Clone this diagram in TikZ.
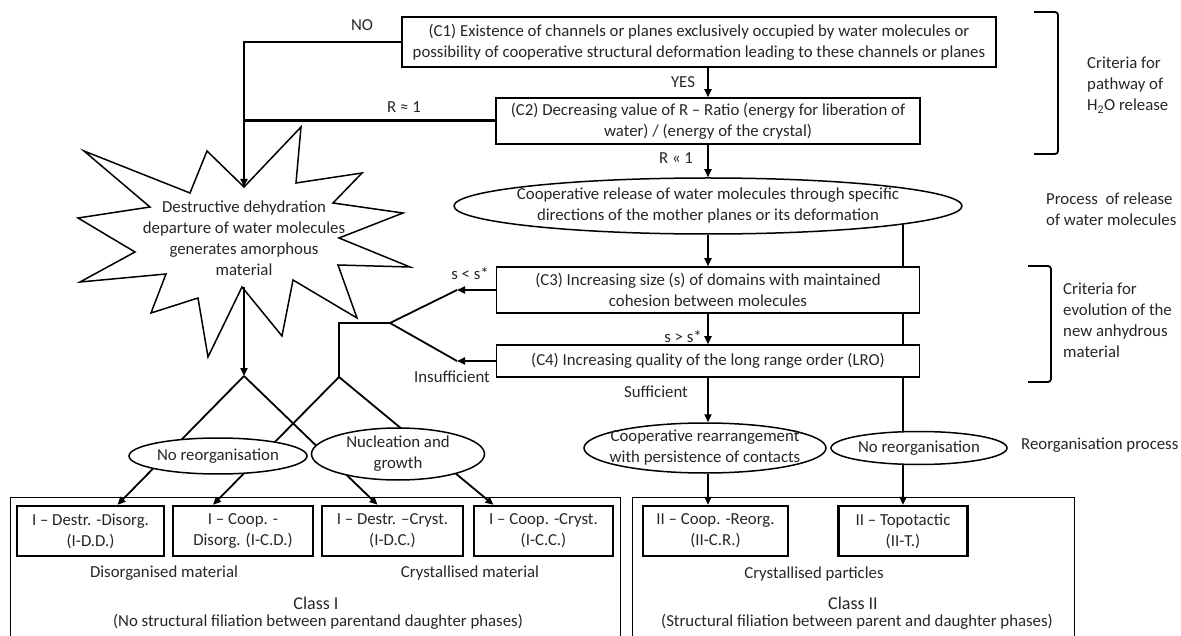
\documentclass[tikz,border=0pt]{standalone}
\usepackage{fontspec}
\setmainfont{Carlito}
\usetikzlibrary{shapes.geometric, arrows.meta, backgrounds}

\tikzstyle{crit} = [rectangle, draw=black, line width=1.5pt, fill=white, align=center, inner sep=0pt]
\tikzstyle{proc} = [ellipse, draw=black, line width=1.5pt, fill=white, align=center, inner xsep=-90pt, inner ysep=-6pt]
\tikzstyle{result} = [rectangle, draw=black, line width=2.4pt, fill=white, align=center, minimum height=50pt, inner sep=0pt]
\tikzstyle{frame} = [rectangle, draw=black, line width=1.2pt, anchor=north west, minimum height=160pt]
\tikzstyle{side} = [align=left, anchor=west, inner sep=0pt]
\tikzstyle{link} = [line width=1.8pt]
\tikzstyle{arrow} = [line width=1.8pt, -{Triangle[length=8pt,width=7pt]}]

\begin{document}
\begin{tikzpicture}[x=1pt, y=-1pt, font=\fontsize{16.8}{21}\selectfont, text=black!85]
    \useasboundingbox (0,0) rectangle (1181,636);

    % Criteria and release process
    \node (c1) [crit, minimum width=594pt, minimum height=50pt] at (699,42) {(C1) Existence of channels or planes exclusively occupied by water molecules or\\possibility of cooperative structural deformation leading to these channels or planes};
    \node (c2) [crit, below of=c1, node distance=79pt, xshift=9pt, minimum width=424pt, minimum height=46pt] {(C2) Decreasing value of R – Ratio (energy for liberation of\\water) / (energy of the crystal)};
    \node (rel) [proc, below of=c2, node distance=85pt, minimum width=508pt, minimum height=56pt] {Cooperative release of water molecules through specific\\directions of the mother planes or its deformation};
    \node (c3) [crit, below of=rel, node distance=84pt, minimum width=423pt, minimum height=46pt] {(C3) Increasing size (s) of domains with maintained\\cohesion between molecules};
    \node (c4) [crit, below of=c3, node distance=71pt, minimum width=423pt, minimum height=32pt] {(C4) Increasing quality of the long range order (LRO)};

    % Destructive pathway
    \draw [line width=1.5pt, fill=white] (84,151) -- (190,193) -- (207,151) -- (244,187) -- (301,127) -- (296,183)
        -- (362,173) -- (333,203) -- (403,213) -- (339,238) -- (410,267) -- (338,265) -- (357,318)
        -- (293,280) -- (282,336) -- (242,287) -- (208,357) -- (198,298) -- (151,313) -- (166,274)
        -- (80,282) -- (135,252) -- (78,218) -- (150,207) -- cycle;
    \node (destr) [align=center] at (244,238) {Destructive dehydration\\departure of water molecules\\generates amorphous\\material};
    \coordinate (topnotch) at (244,187);
    \coordinate (botnotch) at (244,287);
    \coordinate (destrV) at (244,376);
    \coordinate (coopV) at (339,377);
    \coordinate (fork) at (390,323);
    \coordinate (lowS) at (457,290);
    \coordinate (lowQ) at (457,361);

    % Reorganisation processes
    \node (noreorgA) [proc, minimum width=178pt, minimum height=36pt] at (218,456) {No reorganisation};
    \node (nucl) [proc, minimum width=173pt, minimum height=52pt] at (398,454) {Nucleation and\\growth};
    \node (coop) [proc, minimum width=242pt, minimum height=50pt] at (705,448) {Cooperative rearrangement\\with persistence of contacts};
    \node (noreorgB) [proc, right of=coop, node distance=214pt, minimum width=176pt, minimum height=33pt] {No reorganisation};

    % Classes
    \node (classI) [frame, minimum width=610pt] at (10,497) {};
    \node (classII) [frame, minimum width=442pt] at (632,497) {};
    \node (idd) [result, minimum width=147pt] at (90.5,531) {I – Destr. -Disorg.\\(I-D.D.)};
    \node (icd) [result, minimum width=140pt] at (243,531) {I – Coop. -\\Disorg. (I-C.D.)};
    \node (idc) [result, minimum width=141pt] at (392.5,531) {I – Destr. –Cryst.\\(I-D.C.)};
    \node (icc) [result, minimum width=139pt] at (543.5,531) {I – Coop. -Cryst.\\(I-C.C.)};
    \node (iicr) [result, minimum width=145pt] at (715.5,531) {II – Coop. -Reorg.\\(II-C.R.)};
    \node (iit) [result, minimum width=129pt] at (903,531) {II – Topotactic\\(II-T.)};

    \node (disorg) at (164,573) {Disorganised material};
    \node (crystm) at (470,573) {Crystallised material};
    \node (crystp) at (814,574) {Crystallised particles};
    \node (classIlbl) [font=\fontsize{18}{21}\selectfont] at (316,603) {Class I};
    \node (classIIlbl) [font=\fontsize{18}{21}\selectfont] at (853,603) {Class II};
    \node (classIdesc) at (318,622) {(No structural filiation between parentand daughter phases)};
    \node (classIIdesc) at (857,622) {(Structural filiation between parent and daughter phases)};

    % Side notes
    \draw [link, rounded corners=3pt] (1034,12) -- (1058,12) -- (1058,154) -- (1034,154);
    \draw [link, rounded corners=3pt] (1028,266) -- (1051,266) -- (1051,382) -- (1028,382);
    \node (pathway) [side] at (1087,85) {Criteria for\\pathway of\\H\textsubscript{2}O release};
    \node (release) [side] at (1046,209) {Process\ \ of release\\of water molecules};
    \node (evolution) [side] at (1063,320) {Criteria for\\evolution of the\\new anhydrous\\material};
    \node (reorg) [side] at (1021,445) {Reorganisation process};

    % Branch labels
    \node (nolbl) at (362,25) {NO};
    \node (yeslbl) at (683,82) {YES};
    \node (rsim) at (404,107) {R ≈ 1};
    \node (rll) at (676,158) {R « 1};
    \node (sless) at (470,274) {s < s*};
    \node (smore) at (683,337) {s > s*};
    \node (insuf) at (452,377) {Insufficient};
    \node (suff) at (656,392) {Sufficient};

    % Arrows
    \draw [arrow] (c1.west) -| (topnotch);
    \draw [link, line width=3pt] (c2.west) -- (c2.west -| topnotch);
    \draw [arrow] (c1.south -| c2.north) -- (c2.north);
    \draw [arrow] (c2.south) -- (rel.north);
    \draw [arrow] (rel.south) -- (c3.north);
    \draw [arrow] (c3.south) -- (c4.north);
    \draw [arrow] (c4.south) -- (c4.south |- coop.north);
    \draw [arrow] (c4.south |- coop.south) -- (c4.south |- iicr.north);
    \draw [arrow] (c3.west) -- (lowS);
    \draw [arrow] (c4.west) -- (lowQ);
    \draw [link] (lowS) -- (fork) -- (lowQ);
    \draw [link] (fork) -| (coopV);
    \draw [arrow] (botnotch) -- (destrV);

    % lines running behind boxes and ellipses
    \begin{pgfonlayer}{background}
        \draw [arrow] (destrV) -- ([xshift=27pt]idd.north);
        \draw [arrow] (destrV) -- ([xshift=-15pt]idc.north);
        \draw [arrow] (coopV) -- ([xshift=-30pt]icd.north);
        \draw [arrow] (coopV) -- ([xshift=-50pt]icc.north);
        \draw [arrow, line width=2.2pt] (rel.center -| iit.north) -- (iit.north);
    \end{pgfonlayer}
\end{tikzpicture}
\end{document}
